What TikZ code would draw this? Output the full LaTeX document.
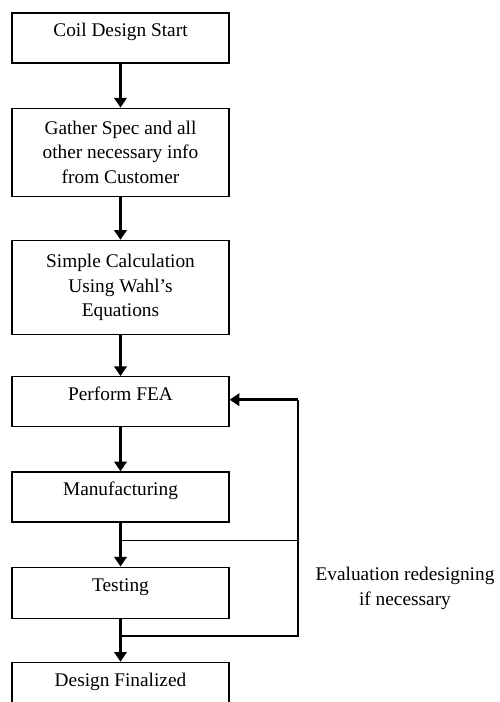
\documentclass[tikz,border=0pt]{standalone}
\usepackage{fontspec}
\setmainfont{Liberation Serif}
\usepackage{tikz}
\usetikzlibrary{positioning, arrows.meta, calc}

\begin{document}
\begin{tikzpicture}[
    every node/.style={font=\fontsize{11}{14}\selectfont},
    stage/.style={draw, line width=0.7pt, minimum width=4.34cm, minimum height=1cm, align=center, inner sep=2pt},
    single/.style={text height=0.7em, text depth=0.3cm},
    flow/.style={draw, line width=1.7pt, -{Triangle[length=5.5pt, width=7pt]}},
    loop/.style={draw, line width=1pt}
]
\useasboundingbox (0,0) rectangle (9.98,-14.04);
\clip (0,0) rectangle (9.98,-14.04);

\node[stage, single] (start) at (2.41,-0.76) {Coil Design Start};
\node[stage, minimum height=1.76cm, below=0.88cm of start] (spec) {Gather Spec and all\\other necessary info\\from Customer};
\node[stage, minimum height=1.88cm, below=0.86cm of spec] (calc) {Simple Calculation\\Using Wahl's\\Equations};
\node[stage, single, below=0.82cm of calc] (fea) {Perform FEA};
\node[stage, single, below=0.88cm of fea] (manu) {Manufacturing};
\node[stage, single, minimum height=1.02cm, below=0.88cm of manu] (test) {Testing};
\node[stage, single, below=0.86cm of test] (final) {Design Finalized};

\node[align=center] (evalnote) at (8.1,-11.77) {Evaluation redesigning\\if necessary};

\coordinate (loopx) at (5.96,0);
\coordinate (j1) at ($(manu.south)!0.41!(test.north)$);
\coordinate (j2) at ($(test.south)!0.4!(final.north)$);
\coordinate (j3) at ($(fea.east)+(0,0.04)$);

\draw[flow] (start) -- (spec);
\draw[flow] (spec) -- (calc);
\draw[flow] (calc) -- (fea);
\draw[flow] (fea) -- (manu);
\draw[flow] (manu) -- (test);
\draw[flow] (test) -- (final);

\draw[loop] (j1) -- (j1 -| loopx);
\draw[loop] (j2) -- (j2 -| loopx) -- (loopx |- j3);
\draw[line width=1.4pt, -{Triangle[length=5.5pt, width=7pt]}] (loopx |- j3) -- (j3);
\end{tikzpicture}
\end{document}
